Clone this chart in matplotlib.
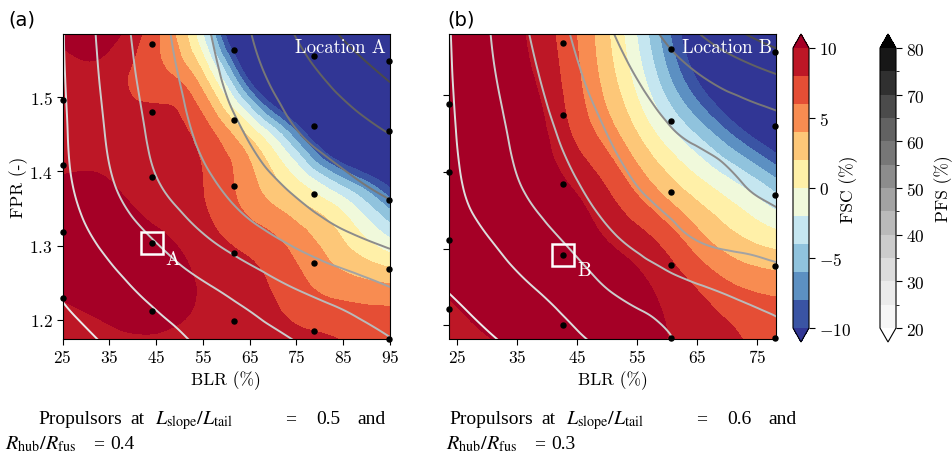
import numpy as np
import matplotlib
matplotlib.use("Agg")
import matplotlib.pyplot as plt
import matplotlib.tri as mtri
from matplotlib.colors import BoundaryNorm
from matplotlib.cm import ScalarMappable

plt.rcParams.update({
    "font.family": "serif",
    "font.serif": ["cmr10"],
    "mathtext.fontset": "cm",
    "axes.formatter.use_mathtext": True,
    "font.size": 12.5,
    "xtick.direction": "out",
    "ytick.direction": "out",
})

# ---------------- data ----------------
fpr_grid = np.array([1.17, 1.24, 1.31, 1.38, 1.45, 1.52, 1.59])

# Location A (rows: FPR, columns: BLR)
blr_grid_a = np.array([25, 35, 45, 55, 65, 75, 85, 95])
fsc_a = np.array([
    [9.0, 9.4, 9.6, 9.4, 9.0, 8.6, 8.0, 7.0],
    [10.2, 10.9, 11.2, 9.8, 8.8, 6.8, 5.3, 4.7],
    [10.6, 11.0, 10.4, 8.8, 7.1, 5.0, 1.9, -2.0],
    [10.2, 10.1, 9.3, 8.0, 4.75, 0.8, -4.1, -10.3],
    [9.0, 9.3, 9.2, 7.1, 1.5, -7.5, -18.0, -22.0],
    [8.8, 9.0, 6.9, 3.1, -9.8, -20.0, -24.0, -26.0],
    [10.8, 11.0, 6.4, -2.2, -20.0, -24.0, -26.0, -28.0],
])
pfs_a = np.array([
    [22.9, 25.5, 28.1, 30.6, 32.8, 35.0, 37.3, 39.6],
    [25.5, 28.4, 31.3, 34.1, 37.0, 39.9, 42.2, 44.6],
    [27.4, 31.4, 35.4, 39.5, 43.1, 46.2, 49.0, 51.3],
    [28.8, 34.3, 39.5, 43.7, 47.5, 50.9, 53.8, 56.0],
    [29.3, 35.6, 41.2, 46.0, 50.5, 54.7, 57.5, 60.0],
    [29.6, 36.4, 42.3, 47.7, 53.1, 57.5, 61.3, 65.0],
    [29.8, 37.1, 43.3, 49.1, 54.9, 60.5, 65.9, 70.0],
])

# Location B
blr_grid_b = np.array([23, 30, 37, 44, 51, 58, 65, 72, 79])
fsc_b = np.array([
    [9.0, 9.7, 10.3, 10.8, 10.8, 10.2, 9.2, 8.2, 7.2],
    [10.0, 10.9, 11.5, 11.5, 11.0, 10.0, 8.2, 6.5, 5.8],
    [11.5, 11.8, 11.8, 11.2, 9.8, 8.0, 4.9, 2.4, 1.0],
    [12.0, 12.0, 11.5, 10.0, 7.46, 4.0, 0.9, -1.8, -5.3],
    [12.0, 11.8, 11.2, 8.0, 4.5, 0.05, -4.3, -9.1, -14.0],
    [12.0, 11.5, 10.3, 7.0, 2.4, -3.5, -10.1, -16.0, -21.0],
    [12.0, 11.5, 9.7, 6.5, 1.4, -5.4, -13.5, -20.0, -24.0],
])
pfs_b = np.array([
    [21.7, 23.9, 26.1, 28.5, 30.9, 33.5, 36.2, 37.4, 38.6],
    [24.7, 27.0, 29.3, 31.9, 34.9, 36.9, 38.8, 40.5, 41.9],
    [27.4, 29.7, 32.6, 35.7, 39.3, 42.3, 45.0, 46.2, 47.3],
    [28.5, 32.0, 35.6, 39.1, 43.0, 46.0, 47.8, 49.7, 51.3],
    [28.9, 33.0, 37.2, 41.5, 45.6, 48.8, 50.8, 52.1, 53.4],
    [29.1, 33.9, 38.7, 43.6, 47.9, 51.4, 54.4, 57.0, 59.4],
    [29.3, 34.6, 40.2, 45.4, 50.3, 55.2, 60.9, 66.0, 70.6],
])

# sampled design points
samples_a_blr = [44.1, 61.7, 78.7, 94.7,
                 25.1, 44.1, 61.7, 78.7, 94.7,
                 25.1, 44.1, 61.7, 78.7, 94.7,
                 25.1, 44.1, 61.7, 78.7, 94.7,
                 25.1, 44.1, 61.7, 78.7, 94.7]
samples_a_fpr = [1.572, 1.563, 1.556, 1.549,
                 1.496, 1.480, 1.469, 1.461, 1.454,
                 1.409, 1.393, 1.381, 1.369, 1.362,
                 1.319, 1.303, 1.290, 1.277, 1.269,
                 1.229, 1.212, 1.199, 1.185, 1.174]
samples_b_blr = [42.7, 60.7, 77.9,
                 23.75, 42.7, 60.7, 77.9,
                 23.75, 42.7, 60.7, 77.9,
                 23.75, 42.7, 60.7, 77.9,
                 23.75, 42.7, 60.7, 77.9]
samples_b_fpr = [1.567, 1.560, 1.555,
                 1.488, 1.474, 1.466, 1.460,
                 1.400, 1.384, 1.374, 1.369,
                 1.311, 1.292, 1.279, 1.277,
                 1.221, 1.201, 1.183, 1.183]

loc_a = (44.1, 1.303)
loc_b = (42.7, 1.292)

fsc_levels = np.arange(-10, 11, 2)
pfs_levels = np.arange(20, 81, 5)
fsc_ticks = [-10, -5, 0, 5, 10]
pfs_ticks = [20, 30, 40, 50, 60, 70, 80]
xticks_a = [25, 35, 45, 55, 65, 75, 85, 95]
xticks_b = [25, 35, 45, 55, 65, 75]
yticks = [1.2, 1.3, 1.4, 1.5]


# ---------------- helpers ----------------
def grid_triangles(nx, ny):
    tris = []
    for j in range(ny - 1):
        for i in range(nx - 1):
            a = j * nx + i
            b, c = a + 1, a + nx
            d = c + 1
            tris.append([a, b, d])
            tris.append([a, d, c])
    return np.array(tris)


def smooth_fields(blr, fpr, *fields):
    iu, iv = np.meshgrid(np.arange(len(blr), dtype=float),
                         np.arange(len(fpr), dtype=float))
    tri = mtri.Triangulation(iu.ravel(), iv.ravel(),
                             grid_triangles(len(blr), len(fpr)))
    refiner = mtri.UniformTriRefiner(tri)
    out = []
    for f in fields:
        tri_r, z_r = refiner.refine_field(np.asarray(f, float).ravel(), subdiv=4)
        out.append(z_r)
    x = np.interp(tri_r.x, np.arange(len(blr)), blr)
    y = np.interp(tri_r.y, np.arange(len(fpr)), fpr)
    return mtri.Triangulation(x, y, tri_r.triangles), out


# ---------------- figure ----------------
W, H = 953, 460
fig = plt.figure(figsize=(W / 100, H / 100), dpi=100)


def px_axes(x0, y0, x1, y1):
    return fig.add_axes([x0 / W, 1 - y1 / H, (x1 - x0) / W, (y1 - y0) / H])


ax_a = px_axes(62.7, 35, 390, 339.5)
ax_b = px_axes(449, 35, 776, 339.5)
cax_fsc = px_axes(793, 35, 809, 343)
cax_pfs = px_axes(880, 35, 896, 343)

pfs_norm = BoundaryNorm(pfs_levels, 256, extend="both")

panels = [
    (ax_a, blr_grid_a, fsc_a, pfs_a, samples_a_blr, samples_a_fpr, loc_a, "A",
     "Location A", (25, 95), (1.175, 1.585), xticks_a),
    (ax_b, blr_grid_b, fsc_b, pfs_b, samples_b_blr, samples_b_fpr, loc_b, "B",
     "Location B", (23.7, 78.1), (1.183, 1.579), xticks_b),
]

cf = None
for (ax, blr, fsc, pfs, sx, sy, loc, tag, title, xl, yl, xt) in panels:
    tri, (fsc_s, pfs_s) = smooth_fields(blr, fpr_grid, fsc, pfs)
    cf = ax.tricontourf(tri, fsc_s, levels=fsc_levels, cmap="RdYlBu_r",
                        extend="both")
    ax.tricontour(tri, pfs_s, levels=pfs_levels, cmap="Greys", norm=pfs_norm,
                  linewidths=1.4)
    ax.scatter(sx, sy, s=13, color="black", zorder=5, clip_on=False)
    ax.plot([loc[0]], [loc[1]], marker="s", ms=16, mfc="none", mec="white",
            mew=1.8, zorder=6)
    ax.annotate(tag, xy=loc, xytext=(15, -11), textcoords="offset points",
                color="white", fontsize=14, ha="center", va="center", zorder=7)
    ax.text(0.988, 0.985, title, transform=ax.transAxes, ha="right", va="top",
            color="white", fontsize=13.5, zorder=7)
    ax.set_xlim(*xl)
    ax.set_ylim(*yl)
    ax.set_xticks(xt)
    ax.set_yticks(yticks)
    ax.set_xlabel("BLR (%)", labelpad=4)
    ax.tick_params(length=4, width=0.8, pad=3)

ax_a.set_ylabel("FPR (-)", labelpad=1)
ax_b.tick_params(labelleft=False)

fig.text(8 / W, 1 - 20 / H, "(a)", family="DejaVu Sans", fontsize=14,
         ha="left", va="center")
fig.text(447 / W, 1 - 20 / H, "(b)", family="DejaVu Sans", fontsize=14,
         ha="left", va="center")

cb1 = fig.colorbar(cf, cax=cax_fsc, ticks=fsc_ticks)
cb1.ax.tick_params(length=4, width=0.8, pad=3)
cb2 = fig.colorbar(ScalarMappable(norm=pfs_norm, cmap="Greys"), cax=cax_pfs,
                   ticks=pfs_ticks, extend="both")
cb2.ax.tick_params(length=4, width=0.8, pad=3)
fig.text(849 / W, 1 - 189 / H, "FSC (%)", rotation=90, ha="center",
         va="center", fontsize=12.5)
fig.text(944 / W, 1 - 189 / H, "PFS (%)", rotation=90, ha="center",
         va="center", fontsize=12.5)

# captions under each panel
cap_kw = dict(family="Liberation Serif", math_fontfamily="stix",
              va="baseline", ha="left")
line1 = ["Propulsors", "at", r"$L_{\rm slope}/L_{\rm tail}$", "=", None, "and"]
line1_offsets = [0, 92, 117, 247, 278, 319]
line2 = [r"$R_{\rm hub}/R_{\rm fus}$", "=", None]
line2_offsets = [0, 88, 105]
for x1, x2, v1, v2 in [(38, 5, "0.5", "0.4"), (449, 446, "0.6", "0.3")]:
    for word, dx in zip(line1, line1_offsets):
        size = 14.5 if word and word.startswith("$") else 14
        fig.text((x1 + dx) / W, 1 - 424 / H, word if word else v1,
                 fontsize=size, **cap_kw)
    for word, dx in zip(line2, line2_offsets):
        size = 14.5 if word and word.startswith("$") else 14
        fig.text((x2 + dx) / W, 1 - 449 / H, word if word else v2,
                 fontsize=size, **cap_kw)

fig.savefig("out.png", dpi=100)
